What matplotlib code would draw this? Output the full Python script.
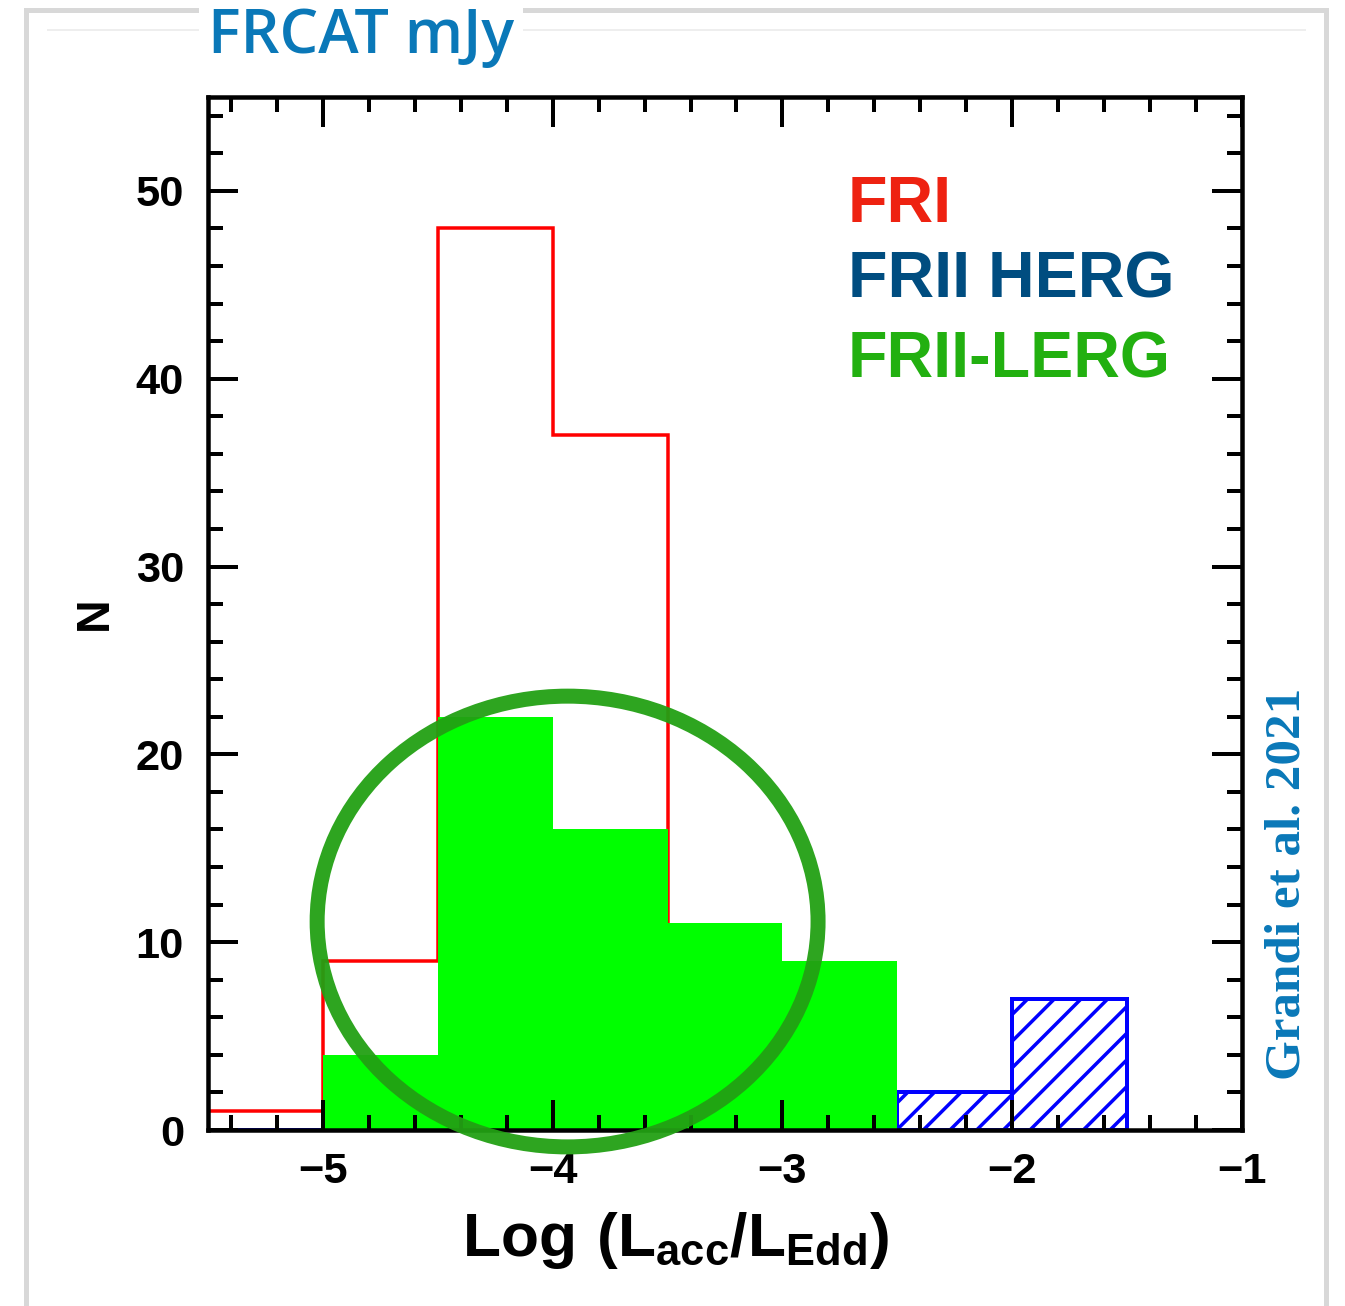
import numpy as np
import matplotlib
matplotlib.use("Agg")
import matplotlib.pyplot as plt
from matplotlib.patches import Ellipse, Rectangle
from matplotlib.lines import Line2D
from matplotlib.ticker import MultipleLocator

# ---------------- data ----------------
bin_edges = [-5.5, -5.0, -4.5, -4.0, -3.5, -3.0, -2.5, -2.0, -1.5]
fri_counts = [1, 9, 48, 37, 0, 0, 0, 0]
frii_lerg_counts = [0, 4, 22, 16, 11, 9, 0, 0]
frii_herg_counts = [0, 0, 0, 0, 0, 0, 2, 7]
x_ticks = [-5, -4, -3, -2, -1]
y_ticks = [0, 10, 20, 30, 40, 50]
legend_labels = ["FRI", "FRII HERG", "FRII-LERG"]

# annotation ellipse (data coords)
circle_center = (-3.935, 11.1)
circle_width = 2.18
circle_height = 24.0

DPI = 160
W, H = 1345, 1306
PT = 72.0 / DPI  # points per pixel

plt.rcParams['hatch.linewidth'] = 3.5 * PT
plt.rcParams['font.family'] = ['Liberation Sans', 'DejaVu Sans']
plt.rcParams['mathtext.fontset'] = 'custom'
plt.rcParams['mathtext.bf'] = 'Liberation Sans:bold'
plt.rcParams['mathtext.rm'] = 'Liberation Sans:bold'

fig = plt.figure(figsize=(W / DPI, H / DPI), dpi=DPI)
fig.patch.set_facecolor('white')

# slide card decoration
fig.patches.append(Rectangle((26 / W, -0.01), (1300 / W), (1306 - 10) / H + 0.01,
                             transform=fig.transFigure, fill=False,
                             edgecolor='#d8d8d8', lw=5 * PT, zorder=0))
fig.lines.append(Line2D([48 / W, 1305 / W], [1 - 30 / H, 1 - 30 / H],
                        transform=fig.transFigure, color='#eeeeee', lw=2 * PT, zorder=0))

left, right, top, bottom = 208, 1242, 97, 1130
ax = fig.add_axes([left / W, 1 - bottom / H, (right - left) / W, (bottom - top) / H])

edges = np.array(bin_edges)
widths = np.diff(edges)

ax.stairs(fri_counts, edges, color='#ff0000', lw=3.5 * PT, zorder=1)
ax.stairs(frii_lerg_counts, edges, fill=True, color='#00ff00', lw=0, zorder=1.5)
ax.bar(edges[:-1], frii_herg_counts, width=widths, align='edge', fill=False,
       hatch='//', edgecolor='#0000ff', lw=4 * PT, zorder=1)

ax.set_xlim(-5.5, -1)
ax.set_ylim(0, 55)
ax.set_xticks(x_ticks)
ax.set_yticks(y_ticks)
ax.set_xticklabels(['\u2212%d' % abs(v) for v in x_ticks])
ax.xaxis.set_minor_locator(MultipleLocator(0.2))
ax.yaxis.set_minor_locator(MultipleLocator(2))
ax.tick_params(which='both', direction='in', top=True, right=True, width=4 * PT)
ax.tick_params(which='major', length=30 * PT, labelsize=19.5)
ax.tick_params(which='minor', length=15 * PT)
ax.tick_params(axis='x', which='major', pad=22 * PT)
ax.tick_params(axis='y', which='major', pad=24 * PT)
for lab in ax.get_xticklabels() + ax.get_yticklabels():
    lab.set_fontweight('bold')
for sp in ax.spines.values():
    sp.set_linewidth(4.5 * PT)

ax.set_xlabel(r'$\mathbf{Log\ (L_{acc}/L_{Edd})}$', fontsize=28)
ax.xaxis.set_label_coords((676 - left) / (right - left), -(1210 - bottom) / (bottom - top))
ax.xaxis.label.set_va('top')
ax.set_ylabel('N', fontsize=21, fontweight='bold')
ax.yaxis.set_label_coords(-0.088, 0.5)

legend_colors = ['#ee2211', '#004d80', '#22b010']
legend_baselines = [222, 298, 377]
for lbl, c, yb in zip(legend_labels, legend_colors, legend_baselines):
    ax.text((848 - left) / (right - left), (bottom - yb) / (bottom - top), lbl,
            transform=ax.transAxes, color=c, fontsize=29, fontweight='bold',
            ha='left', va='baseline')

ell = Ellipse(circle_center, circle_width, circle_height, fill=False,
              edgecolor='#22a014', lw=15 * PT, alpha=0.95, clip_on=False, zorder=6)
ax.add_patch(ell)

fig.text(208 / W, 1 - 53 / H, 'FRCAT mJy', fontsize=27.5, fontweight='semibold',
         family=['Open Sans', 'DejaVu Sans'], color='#0a78b8', ha='left', va='baseline',
         bbox=dict(facecolor='white', edgecolor='none', pad=4))
fig.text(1287 / W, 1 - 884 / H, 'Grandi et al. 2021', rotation=90, fontsize=23,
         fontweight='bold', family=['Liberation Serif', 'DejaVu Serif'], color='#0a78b8',
         ha='center', va='center')

fig.savefig('out.png', dpi=DPI, facecolor='white')
